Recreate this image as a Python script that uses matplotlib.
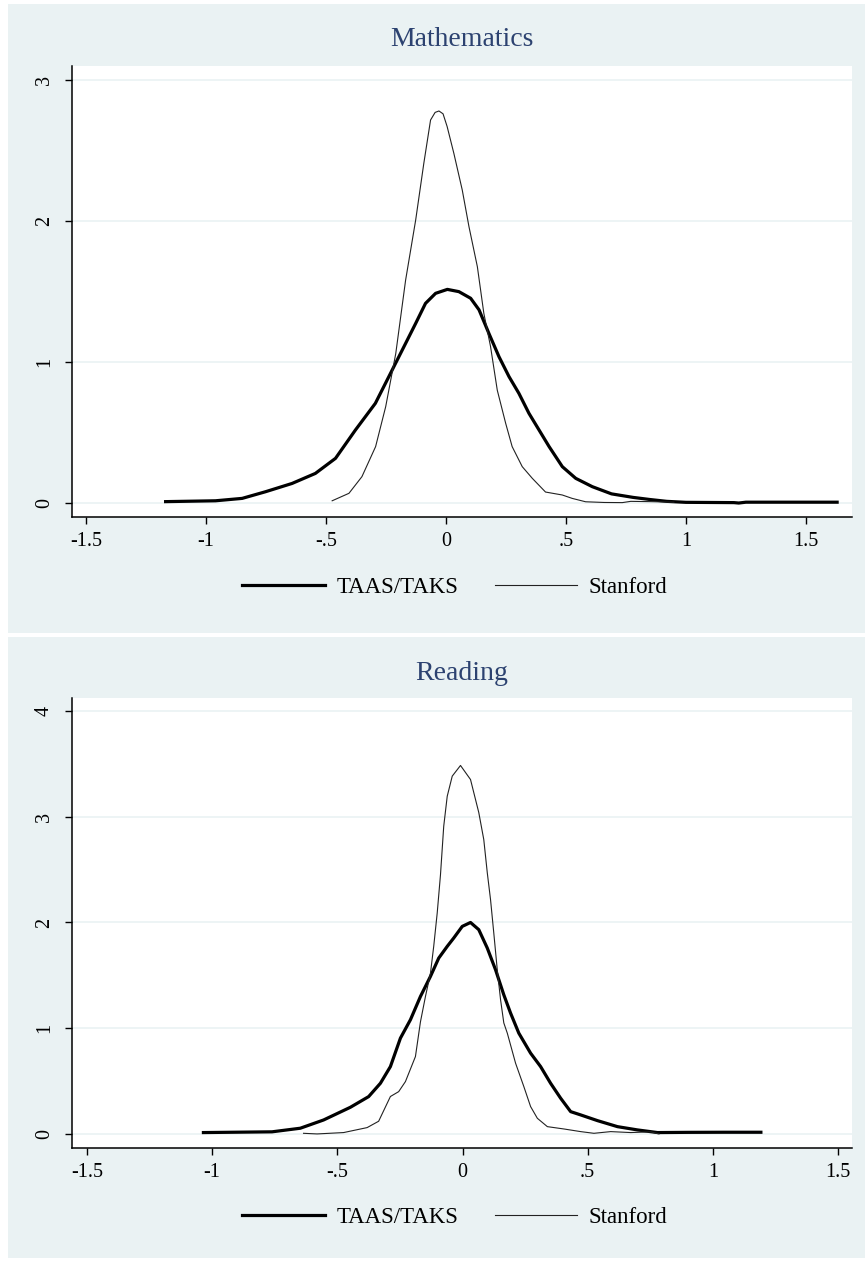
import matplotlib
matplotlib.use("Agg")
import matplotlib.pyplot as plt
from matplotlib.patches import Rectangle

# kernel density curves
math_taas_x = [-1.168, -0.96, -0.849, -0.752, -0.641, -0.544, -0.46, -0.377, -0.294, -0.224,
               -0.168, -0.126, -0.085, -0.043, 0.006, 0.054, 0.103, 0.138, 0.179, 0.221,
               0.263, 0.304, 0.346, 0.388, 0.43, 0.485, 0.541, 0.61, 0.69, 0.78,
               0.85, 0.92, 1.0, 1.1, 1.2, 1.22, 1.25, 1.4, 1.63]
math_taas_y = [0.01, 0.016, 0.033, 0.08, 0.139, 0.21, 0.317, 0.518, 0.707, 0.943,
               1.132, 1.274, 1.416, 1.487, 1.515, 1.499, 1.452, 1.37, 1.203, 1.038,
               0.896, 0.778, 0.636, 0.518, 0.40, 0.258, 0.175, 0.116, 0.065, 0.04,
               0.025, 0.012, 0.005, 0.004, 0.003, 0.0, 0.006, 0.006, 0.006]

math_stan_x = [-0.474, -0.404, -0.35, -0.293, -0.251, -0.209, -0.168, -0.126, -0.092, -0.064,
               -0.045, -0.029, -0.012, 0.005, 0.033, 0.068, 0.096, 0.131, 0.158, 0.186,
               0.214, 0.249, 0.276, 0.318, 0.36, 0.415, 0.485, 0.526, 0.582, 0.66,
               0.735, 0.77, 0.85, 0.95]
math_stan_y = [0.016, 0.069, 0.187, 0.40, 0.683, 1.06, 1.58, 2.007, 2.41, 2.716,
               2.77, 2.78, 2.76, 2.67, 2.48, 2.22, 1.96, 1.676, 1.345, 1.109,
               0.80, 0.565, 0.40, 0.258, 0.175, 0.078, 0.057, 0.033, 0.009, 0.004,
               0.003, 0.012, 0.01, 0.006]

read_taas_x = [-1.035, -0.761, -0.648, -0.555, -0.448, -0.375, -0.328, -0.288, -0.248, -0.208,
               -0.168, -0.128, -0.095, -0.061, -0.035, -0.001, 0.032, 0.065, 0.099, 0.132,
               0.165, 0.192, 0.225, 0.272, 0.312, 0.352, 0.392, 0.432, 0.472, 0.539,
               0.619, 0.699, 0.779, 0.9, 1.05, 1.192]
read_taas_y = [0.013, 0.02, 0.054, 0.132, 0.252, 0.353, 0.479, 0.637, 0.906, 1.08,
               1.30, 1.49, 1.663, 1.774, 1.853, 1.963, 2.0, 1.932, 1.758, 1.553,
               1.316, 1.143, 0.953, 0.764, 0.637, 0.479, 0.338, 0.211, 0.180, 0.126,
               0.069, 0.038, 0.013, 0.015, 0.016, 0.016]

read_stan_x = [-0.635, -0.581, -0.475, -0.381, -0.335, -0.288, -0.255, -0.228, -0.188, -0.168,
               -0.148, -0.128, -0.115, -0.101, -0.088, -0.075, -0.061, -0.041, -0.008, 0.032,
               0.065, 0.085, 0.099, 0.112, 0.125, 0.139, 0.152, 0.165, 0.179, 0.212,
               0.245, 0.272, 0.299, 0.339, 0.405, 0.472, 0.525, 0.592, 0.672, 0.752, 0.785]
read_stan_y = [0.006, 0.0, 0.013, 0.06, 0.12, 0.354, 0.40, 0.495, 0.732, 1.06,
               1.30, 1.52, 1.774, 2.09, 2.45, 2.91, 3.194, 3.384, 3.485, 3.352,
               3.04, 2.784, 2.47, 2.216, 1.90, 1.55, 1.27, 1.05, 0.953, 0.669,
               0.448, 0.259, 0.148, 0.069, 0.047, 0.022, 0.006, 0.022, 0.013, 0.02, 0.0]

x_ticks = [-1.5, -1, -0.5, 0, 0.5, 1, 1.5]
x_tick_labels = ["-1.5", "-1", "-.5", "0", ".5", "1", "1.5"]
math_y_ticks = [0, 1, 2, 3]
read_y_ticks = [0, 1, 2, 3, 4]
series_names = ["TAAS/TAKS", "Stanford"]

bg = "#eaf2f3"
title_col = "#2c4270"
plt.rcParams["font.family"] = ["Liberation Serif", "DejaVu Serif"]

W, H = 865, 1262
fig = plt.figure(figsize=(W / 100, H / 100), dpi=100, facecolor="white")

# two stata graph regions, behind the axes
fig.patches.append(Rectangle((8 / W, 1 - 633 / H), 1 - 8 / W, 629 / H,
                             transform=fig.transFigure, facecolor=bg, edgecolor="none", zorder=-5))
fig.patches.append(Rectangle((8 / W, 1 - 1258 / H), 1 - 8 / W, 621 / H,
                             transform=fig.transFigure, facecolor=bg, edgecolor="none", zorder=-5))

panels = [
    dict(title="Mathematics", rect=[72, 66, 852, 517], xlim=(-1.558, 1.692), ylim=(-0.099, 3.099),
         yt=math_y_ticks, taas=(math_taas_x, math_taas_y), stan=(math_stan_x, math_stan_y),
         title_y=40, leg_y=587),
    dict(title="Reading", rect=[72, 698, 852, 1148], xlim=(-1.56, 1.556), ylim=(-0.133, 4.123),
         yt=read_y_ticks, taas=(read_taas_x, read_taas_y), stan=(read_stan_x, read_stan_y),
         title_y=673, leg_y=1217),
]

for p in panels:
    l, t, r, b = p["rect"]
    ax = fig.add_axes([l / W, 1 - b / H, (r - l) / W, (b - t) / H])
    ax.set_zorder(1)
    ax.set_facecolor("white")
    ax.plot(p["taas"][0], p["taas"][1], color="black", lw=2.3, label=series_names[0], zorder=3)
    ax.plot(p["stan"][0], p["stan"][1], color="#222222", lw=0.8, label=series_names[1], zorder=3)
    ax.set_xlim(*p["xlim"])
    ax.set_ylim(*p["ylim"])
    ax.set_xticks(x_ticks)
    ax.set_xticklabels(x_tick_labels)
    ax.set_yticks(p["yt"])
    ax.set_yticklabels([str(v) for v in p["yt"]])
    ax.grid(axis="y", color=bg, lw=1.2, zorder=1)
    for s in ["top", "right"]:
        ax.spines[s].set_visible(False)
    for s in ["left", "bottom"]:
        ax.spines[s].set_linewidth(1.1)
    ax.tick_params(axis="both", length=5, width=1, labelsize=14.5, direction="out")
    ax.tick_params(axis="x", pad=6)
    ax.tick_params(axis="y", labelrotation=90, pad=8)
    for lab in ax.get_yticklabels():
        lab.set_va("center")

    fig.text(462 / W, 1 - p["title_y"] / H, p["title"], ha="center", va="center",
             fontsize=20, color=title_col)
    ax.legend(loc="center", bbox_to_anchor=(455 / W, 1 - p["leg_y"] / H),
              bbox_transform=fig.transFigure, ncol=2, frameon=False, fontsize=16.5,
              handlelength=3.6, handletextpad=0.5, columnspacing=1.6)

fig.savefig("out.png", dpi=100, facecolor=fig.get_facecolor())
